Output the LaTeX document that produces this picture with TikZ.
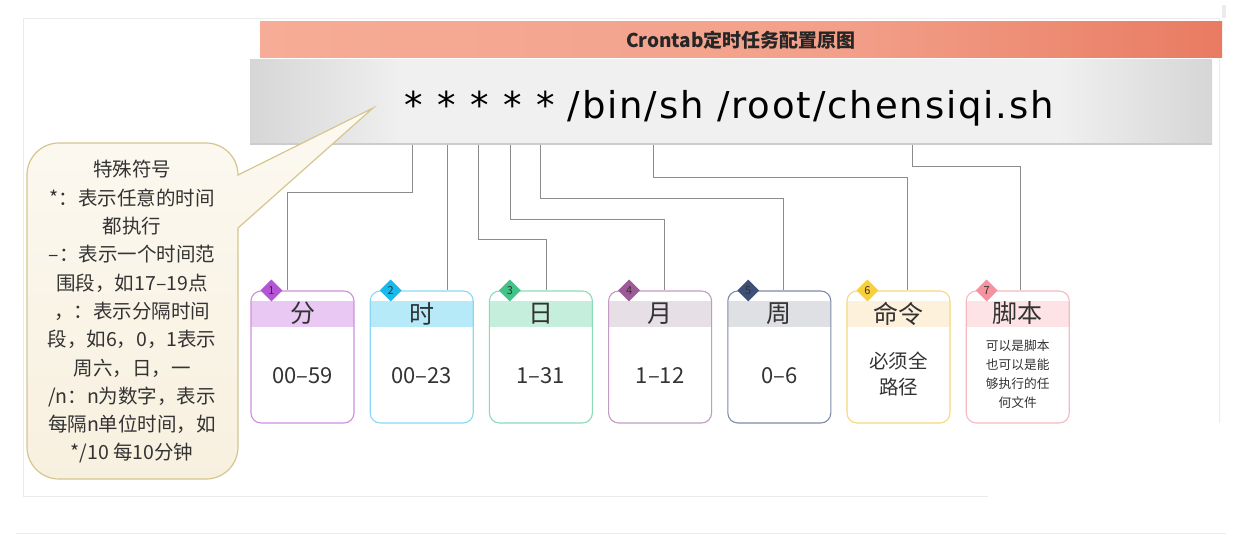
\documentclass[tikz,border=0pt]{standalone}
\usepackage{fontspec}
\setmainfont{Noto Sans CJK SC}
\newfontfamily\cmdfont[LetterSpace=5]{DejaVu Sans}
\usepackage{tikz}
\usetikzlibrary{shapes.geometric, calc}

\definecolor{txt}{HTML}{333333}
\definecolor{linegray}{HTML}{8C8C8C}
\definecolor{framegray}{HTML}{EBEBEB}
\definecolor{titleleft}{HTML}{F6AC96}
\definecolor{titlemid}{HTML}{F3A08A}
\definecolor{titleright}{HTML}{E97B62}
\definecolor{barside}{HTML}{D6D6D6}
\definecolor{barmid}{HTML}{F0F0F0}
\definecolor{bubbletop}{HTML}{FCF9F1}
\definecolor{bubblebot}{HTML}{F8F0DF}
\definecolor{bubbleline}{HTML}{D5C58E}
% box colours: line, header, badge
\definecolor{minline}{HTML}{CF8FE0}\definecolor{minhead}{HTML}{E9C9F4}\definecolor{minbadge}{HTML}{B455D6}
\definecolor{hourline}{HTML}{88D8F4}\definecolor{hourhead}{HTML}{B6EAF9}\definecolor{hourbadge}{HTML}{19B9EA}
\definecolor{dayline}{HTML}{88DCB6}\definecolor{dayhead}{HTML}{C6EEDC}\definecolor{daybadge}{HTML}{43C487}
\definecolor{monline}{HTML}{C49AC4}\definecolor{monhead}{HTML}{E7DFE6}\definecolor{monbadge}{HTML}{9E5A98}
\definecolor{weekline}{HTML}{7D8AA8}\definecolor{weekhead}{HTML}{DFE0E3}\definecolor{weekbadge}{HTML}{3E5077}
\definecolor{cmdline}{HTML}{F5D97A}\definecolor{cmdhead}{HTML}{FDF1DC}\definecolor{cmdbadge}{HTML}{F8CF3C}
\definecolor{shline}{HTML}{F5B9C2}\definecolor{shhead}{HTML}{FDE3E6}\definecolor{shbadge}{HTML}{F5929F}

\pgfdeclarehorizontalshading{titleshade}{100bp}{color(0bp)=(titleleft); color(25bp)=(titleleft); color(55bp)=(titlemid); color(75bp)=(titleright); color(100bp)=(titleright)}
\pgfdeclarehorizontalshading{barshade}{100bp}{color(0bp)=(barside); color(25bp)=(barside); color(33bp)=(barmid); color(67bp)=(barmid); color(75bp)=(barside); color(100bp)=(barside)}

\begin{document}
\begin{tikzpicture}[x=1pt, y=-1pt,
    every node/.style={text=txt, inner sep=0pt},
    frame/.style={draw=framegray, line width=1pt},
    link/.style={draw=linegray, line width=1pt},
    field/.style 2 args={draw=#1, line width=1.1pt, rounded corners=10pt, fill=white,
      minimum width=103pt, minimum height=132pt,
      path picture={\fill[#2, sharp corners] ([yshift=-10pt]path picture bounding box.north west)
        rectangle ([yshift=-36pt]path picture bounding box.north east);}},
    head/.style={font=\fontsize{25}{25}\selectfont},
    value/.style={font=\fontsize{22}{26}\selectfont, align=center},
    badge/.style={diamond, fill=#1, minimum size=22pt, font=\fontsize{11}{11}\selectfont}]
    \useasboundingbox (0,0) rectangle (1252,535);

    % 外框
    \draw[frame] (23,496) -- (23,19) -- (1219,19) -- (1219,423);
    \draw[frame] (23,496) -- (988,496);
    \draw[frame] (16,533) -- (1226,533);
    \fill[framegray] (1222,5) rectangle (1226,18);

    % 标题和命令
    \node[shading=titleshade, minimum width=962pt, minimum height=36pt,
      font=\fontsize{19}{19}\selectfont\bfseries, text=black!85] (title) at (741,40) {Crontab定时任务配置原图};
    \node[shading=barshade, minimum width=962pt, minimum height=84pt] (bar) at (731,102) {};
    \draw[black!20, line width=1.5pt] (bar.south west) -- (bar.south east);
    \node[anchor=base west, font=\cmdfont\fontsize{37}{37}\selectfont, text=black] (cmd) at (404,118)
      {*\hspace{1pt} *\hspace{1pt} *\hspace{1pt} *\hspace{1pt} *\hspace{-1pt} /bin/sh /root/chensiqi.sh};

    % 说明气泡
    \draw[top color=bubbletop, bottom color=bubblebot, draw=bubbleline, line width=1.2pt]
      (238,228) [rounded corners=32pt] -- (238,479) -- (27,479) -- (27,143) -- (238,143)
      [sharp corners] -- (238,175) -- (373,108) -- cycle;
    \node[font=\fontsize{19.5}{28.3}\selectfont, align=center] (note) at (132,312) {特殊符号\\*：表示任意的时间\\都执行\\–：表示一个时间范\\围段，如17–19点\\，：表示分隔时间\\段，如6，0，1表示\\周六，日，一\\/n：n为数字，表示\\每隔n单位时间，如\\*/10 每10分钟};

    % 各字段
    \node[field={minline}{minhead}] (b1) at (302.5,357) {};
    \node[field={hourline}{hourhead}] (b2) at (421.7,357) {};
    \node[field={dayline}{dayhead}] (b3) at (540.9,357) {};
    \node[field={monline}{monhead}] (b4) at (660.1,357) {};
    \node[field={weekline}{weekhead}] (b5) at (779.3,357) {};
    \node[field={cmdline}{cmdhead}] (b6) at (898.5,357) {};
    \node[field={shline}{shhead}] (b7) at (1017.7,357) {};

    \node[head] (h1) at ([yshift=-23pt]b1.north) {分};
    \node[head] (h2) at ([yshift=-23pt]b2.north) {时};
    \node[head] (h3) at ([yshift=-23pt]b3.north) {日};
    \node[head] (h4) at ([yshift=-23pt]b4.north) {月};
    \node[head] (h5) at ([yshift=-23pt]b5.north) {周};
    \node[head] (h6) at ([yshift=-23pt]b6.north) {命令};
    \node[head] (h7) at ([yshift=-23pt]b7.north) {脚本};

    \node[value] (v1) at ([yshift=-85pt]b1.north) {00–59};
    \node[value] (v2) at ([yshift=-85pt]b2.north) {00–23};
    \node[value] (v3) at ([yshift=-85pt]b3.north) {1–31};
    \node[value] (v4) at ([yshift=-85pt]b4.north) {1–12};
    \node[value] (v5) at ([yshift=-85pt]b5.north) {0–6};
    \node[value, font=\fontsize{19.5}{26}\selectfont] (v6) at ([yshift=-84pt]b6.north) {必须全\\路径};
    \node[value, font=\fontsize{12.7}{19}\selectfont] (v7) at ([yshift=-84pt]b7.north) {可以是脚本\\也可以是能\\够执行的任\\何文件};

    \node[badge=minbadge] (n1) at ([xshift=21pt]b1.north west) {1};
    \node[badge=hourbadge] (n2) at ([xshift=21pt]b2.north west) {2};
    \node[badge=daybadge] (n3) at ([xshift=21pt]b3.north west) {3};
    \node[badge=monbadge] (n4) at ([xshift=21pt]b4.north west) {4};
    \node[badge=weekbadge] (n5) at ([xshift=21pt]b5.north west) {5};
    \node[badge=cmdbadge] (n6) at ([xshift=21pt]b6.north west) {6};
    \node[badge=shbadge] (n7) at ([xshift=21pt]b7.north west) {7};

    % 连线
    \coordinate (s1) at (412,145);
    \coordinate (s2) at (447,145);
    \coordinate (s3) at (478,145);
    \coordinate (s4) at (510,145);
    \coordinate (s5) at (540,145);
    \coordinate (s6) at (653,145);
    \coordinate (s7) at (912,145);
    \draw[link] (s1) -- ++(0,47) -| ([xshift=-15.5pt]b1.north);
    \draw[link] (s2) -- (s2 |- b2.north);
    \draw[link] (s3) -- ++(0,94) -| ([xshift=5.1pt]b3.north);
    \draw[link] (s4) -- ++(0,74) -| ([xshift=3.9pt]b4.north);
    \draw[link] (s5) -- ++(0,53) -| ([xshift=3.7pt]b5.north);
    \draw[link] (s6) -- ++(0,32) -| ([xshift=8.5pt]b6.north);
    \draw[link] (s7) -- ++(0,21) -| ([xshift=2.3pt]b7.north);
\end{tikzpicture}
\end{document}
